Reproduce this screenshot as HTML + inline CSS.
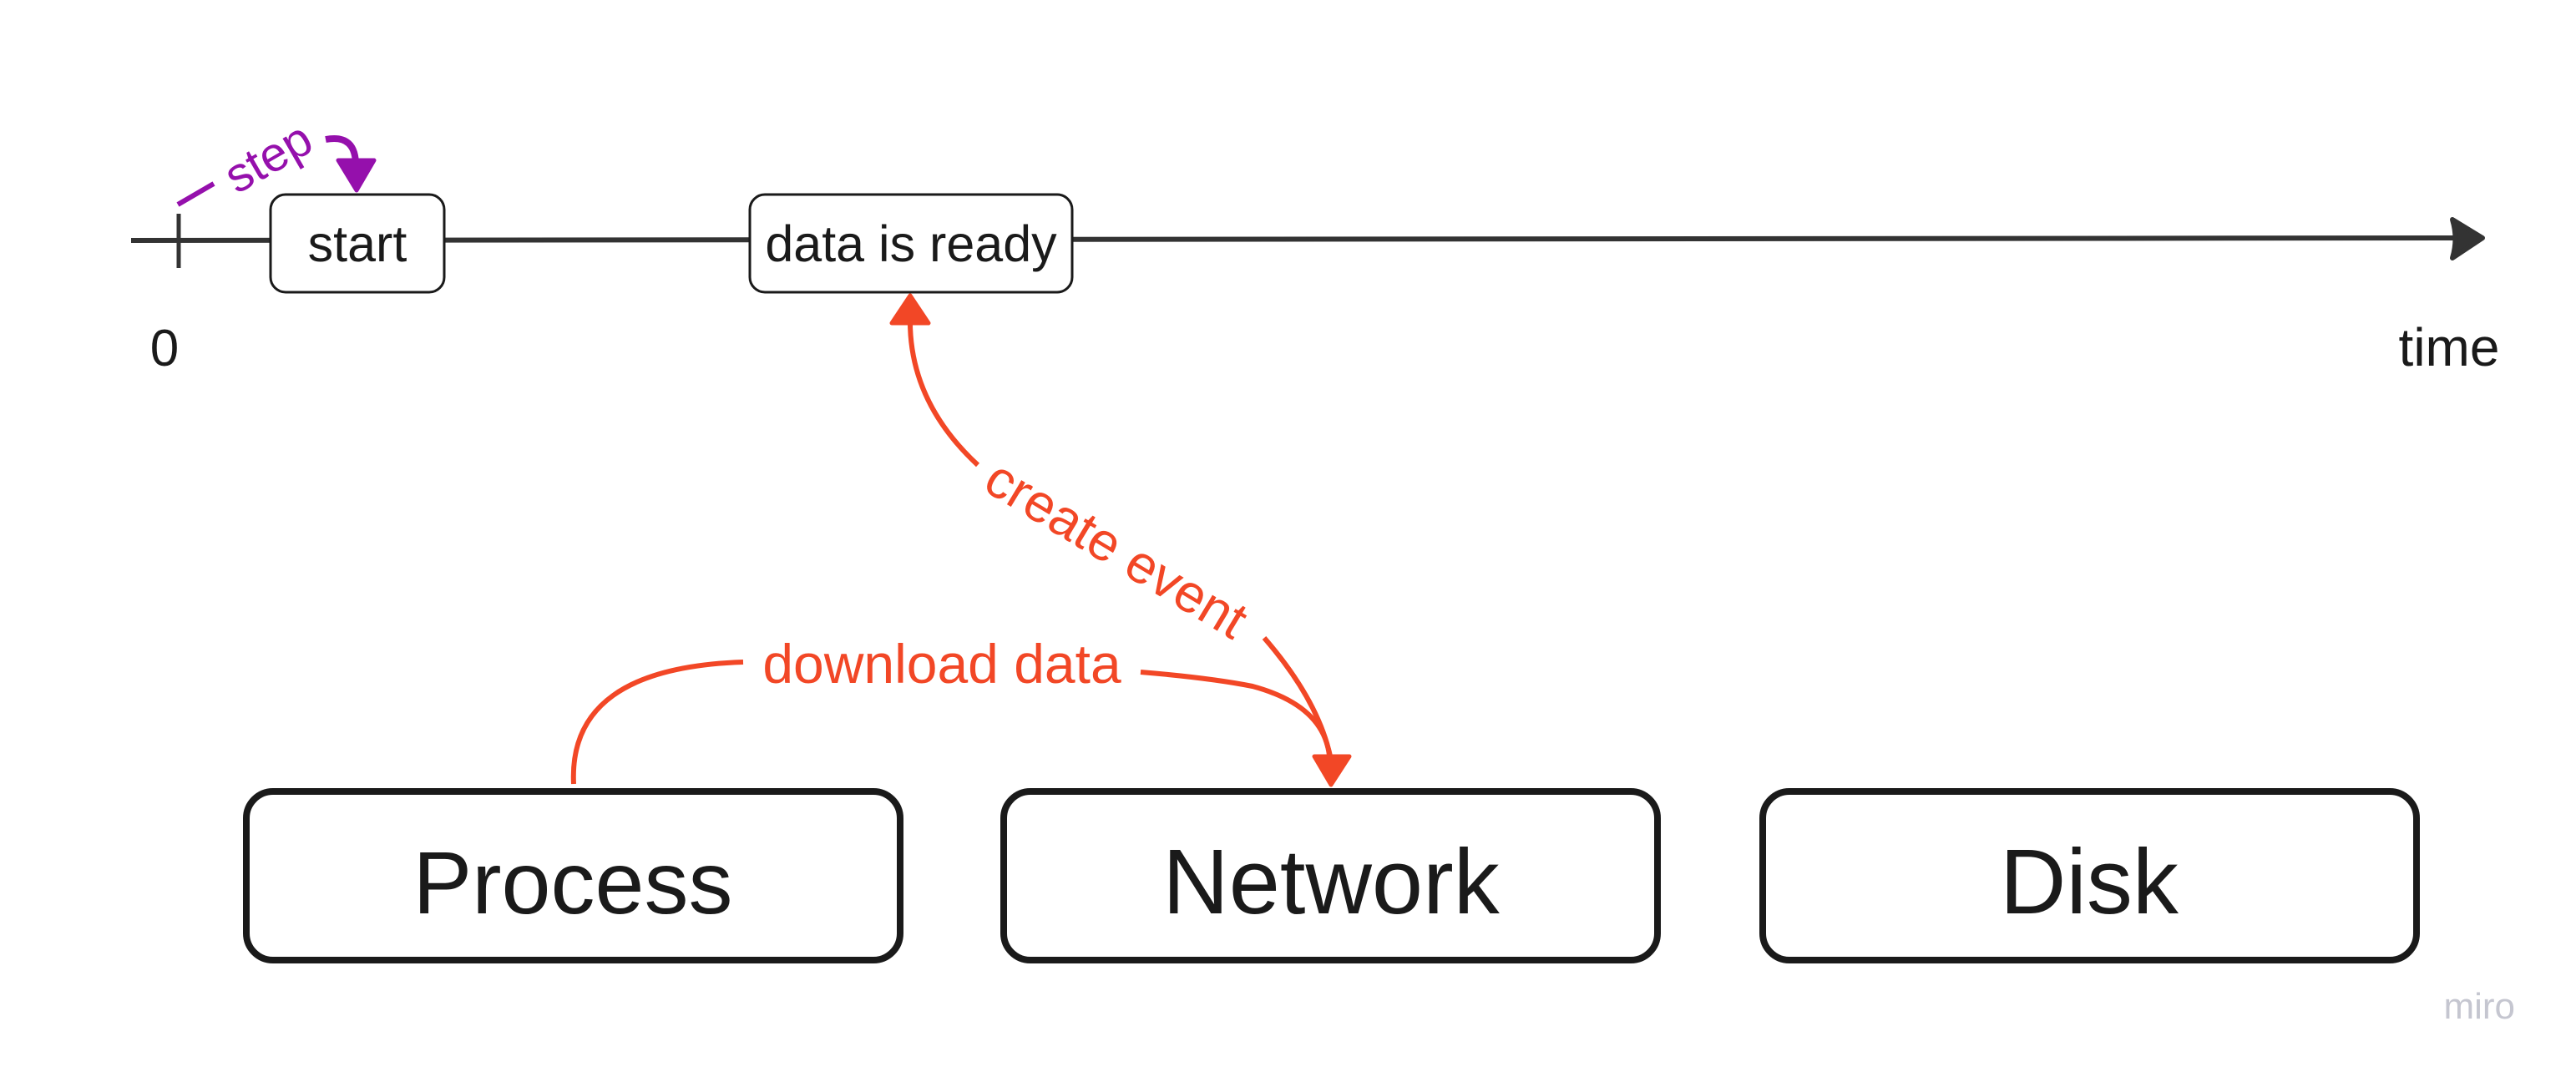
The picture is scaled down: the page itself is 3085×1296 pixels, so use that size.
<!DOCTYPE html>
<html><head><meta charset="utf-8"><style>
html,body{margin:0;padding:0;background:#fff;width:3085px;height:1296px;overflow:hidden}
svg{display:block}
text{font-family:"Liberation Sans","DejaVu Sans",sans-serif}
</style></head><body>
<svg width="3085" height="1296" viewBox="0 0 3085 1296" xmlns="http://www.w3.org/2000/svg">
<!-- timeline -->
<line x1="157" y1="288" x2="2950" y2="285" stroke="#333" stroke-width="6"/>
<path d="M2937 263 L2973 285 L2937 309 Q2944 286 2937 263 Z" fill="#333" stroke="#333" stroke-width="6" stroke-linejoin="round"/>
<line x1="214" y1="256" x2="214" y2="321" stroke="#333" stroke-width="5"/>
<text x="197" y="438" font-size="62" text-anchor="middle" fill="#1a1a1a">0</text>
<text x="2933" y="438" font-size="64" text-anchor="middle" fill="#1a1a1a">time</text>
<!-- small boxes -->
<rect x="324" y="233" width="208" height="117" rx="18" fill="#fff" stroke="#1a1a1a" stroke-width="3"/>
<text x="428" y="313" font-size="61" text-anchor="middle" fill="#1a1a1a">start</text>
<rect x="898" y="233" width="386" height="117" rx="18" fill="#fff" stroke="#1a1a1a" stroke-width="3"/>
<text x="1091" y="313" font-size="61" text-anchor="middle" fill="#1a1a1a">data is ready</text>
<!-- step -->
<line x1="213" y1="245" x2="256" y2="220" stroke="#9510ac" stroke-width="6"/>
<text x="322" y="208" font-size="58" text-anchor="middle" fill="#9510ac" transform="rotate(-30 322 190)">step</text>
<path d="M390 167 Q427 160 426 200" fill="none" stroke="#9510ac" stroke-width="8"/>
<path d="M405 192 L448 192 L427 228 Z" fill="#9510ac" stroke="#9510ac" stroke-width="5" stroke-linejoin="round"/>
<!-- create event -->
<path d="M1090 380 Q1088 480 1171 557" fill="none" stroke="#f24726" stroke-width="6"/>
<path d="M1068 387 L1090 354 L1112 387 Z" fill="#f24726" stroke="#f24726" stroke-width="5" stroke-linejoin="round"/>
<text x="1336" y="679" font-size="64" text-anchor="middle" fill="#f24726" transform="rotate(31 1336 659)">create event</text>
<path d="M1514 764 Q1580 840 1594 910" fill="none" stroke="#f24726" stroke-width="6"/>
<path d="M1574 906 L1616 906 L1594 940 Z" fill="#f24726" stroke="#f24726" stroke-width="5" stroke-linejoin="round"/>
<!-- download data -->
<path d="M687 939 Q680 800 890 793" fill="none" stroke="#f24726" stroke-width="6"/>
<text x="1128" y="818" font-size="66" text-anchor="middle" fill="#f24726">download data</text>
<path d="M1366 805 Q1450 812 1500 822 Q1585 845 1592 905" fill="none" stroke="#f24726" stroke-width="6"/>
<!-- big boxes -->
<rect x="295" y="948" width="783" height="202" rx="32" fill="#fff" stroke="#1a1a1a" stroke-width="8"/>
<text x="686" y="1094" font-size="106" text-anchor="middle" fill="#1a1a1a">Process</text>
<rect x="1202" y="948" width="783" height="202" rx="32" fill="#fff" stroke="#1a1a1a" stroke-width="8"/>
<text x="1594" y="1094" font-size="110" text-anchor="middle" fill="#1a1a1a">Network</text>
<rect x="2111" y="948" width="783" height="202" rx="32" fill="#fff" stroke="#1a1a1a" stroke-width="8"/>
<text x="2502" y="1094" font-size="110" text-anchor="middle" fill="#1a1a1a">Disk</text>
<text x="3012" y="1220" font-size="44" text-anchor="end" fill="#c5c6d0">miro</text>
</svg>
</body></html>
